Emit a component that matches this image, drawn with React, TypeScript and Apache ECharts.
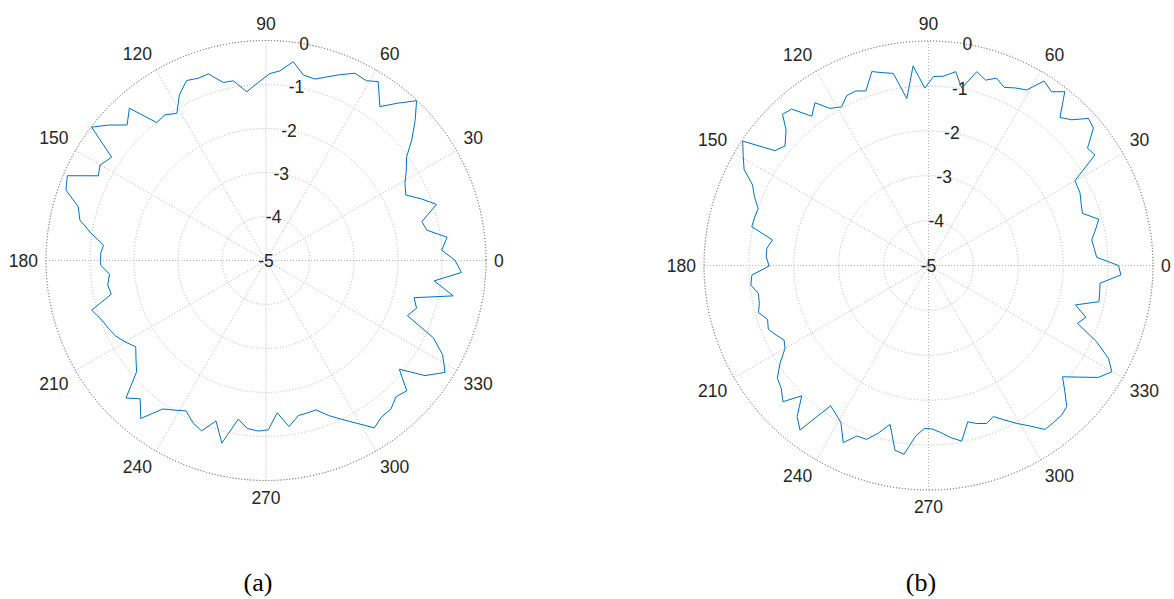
import React, { useEffect, useRef } from "react";
import * as echarts from "echarts";

// ---- data (angle in degrees, gain in dB) ----
const anglesA = [
  0, 3.4, 7.3, 10.7, 14.0, 18.2, 21.6, 25.1, 29.0, 32.5,
  36.4, 39.6, 43.2, 46.7, 50.2, 53.5, 57.9, 60.8, 64.6, 68.2,
  71.6, 74.9, 78.6, 82.2, 85.8, 88.8, 92.5, 96.5, 100.3, 103.5,
  107.2, 110.4, 113.8, 117.6, 121.2, 124.8, 128.4, 131.9, 135.7, 139.3,
  142.6, 146.2, 150.1, 153.2, 156.9, 160.6, 164.0, 167.7, 171.2, 174.6,
  177.5, 181.6, 185.0, 188.8, 192.3, 195.9, 199.9, 203.2, 206.5, 210.0,
  213.5, 217.0, 220.7, 224.5, 227.7, 231.6, 235.2, 238.7, 242.0, 245.9,
  249.3, 252.7, 256.4, 260.1, 263.6, 267.4, 270.8, 274.2, 277.9, 281.8,
  285.2, 288.5, 292.0, 295.5, 299.9, 302.9, 306.5, 310.1, 313.7, 317.2,
  320.8, 324.1, 328.0, 331.9, 335.2, 338.7, 342.4, 345.9, 349.3, 353.1,
  356.5,
];
const gainA = [
  -0.70, -1.00, -0.85, -1.28, -1.35, -0.92, -1.20, -1.49, -1.39, -1.22,
  -1.03, -0.70, -0.35, -0.01, -0.35, -0.65, -0.20, -0.32, -0.29, -0.45,
  -0.60, -0.73, -0.70, -0.44, -0.68, -0.75, -0.95, -1.14, -0.85, -0.84,
  -0.56, -0.58, -0.53, -0.75, -1.09, -0.97, -1.00, -0.35, -0.59, -0.28,
  -0.01, -0.78, -0.65, -0.73, -0.09, -0.18, -0.56, -0.67, -0.98, -1.29,
  -1.24, -1.24, -1.43, -1.36, -1.40, -0.88, -1.03, -1.10, -1.17, -1.30,
  -1.45, -1.30, -1.12, -0.54, -0.75, -0.42, -0.89, -1.02, -1.13, -0.95,
  -0.86, -1.18, -0.73, -1.34, -1.16, -1.12, -1.15, -1.53, -1.19, -1.40,
  -1.41, -1.42, -1.20, -1.00, -0.71, -0.47, -0.58, -0.59, -0.72, -0.64,
  -1.09, -0.54, -0.20, -0.45, -0.81, -1.55, -1.41, -1.53, -0.67, -1.15,
  -0.55,
];

const anglesB = [
  0, 2.8, 5.9, 8.9, 12.0, 15.2, 18.7, 22.2, 25.5, 30.1,
  33.6, 36.4, 39.8, 42.6, 45.5, 48.4, 51.9, 54.7, 57.9, 60.8,
  64.0, 67.0, 70.0, 72.9, 76.0, 79.4, 82.0, 85.5, 88.5, 91.2,
  94.4, 97.4, 100.4, 103.6, 106.3, 109.7, 112.6, 115.7, 118.7, 122.1,
  124.9, 128.0, 131.2, 134.0, 136.4, 140.2, 143.2, 146.2, 149.3, 152.5,
  155.4, 158.4, 161.5, 164.5, 167.6, 170.7, 173.9, 176.9, 180.2, 183.1,
  186.3, 189.3, 192.6, 195.5, 198.5, 201.7, 204.5, 207.3, 210.0, 213.4,
  216.7, 219.8, 223.1, 225.8, 229.0, 232.0, 235.1, 238.0, 240.8, 244.3,
  247.2, 250.4, 253.3, 256.4, 259.7, 262.6, 265.8, 268.6, 271.2, 274.2,
  277.5, 280.7, 284.1, 287.0, 290.2, 293.2, 296.3, 299.2, 301.9, 305.4,
  308.5, 311.7, 314.4, 317.2, 320.3, 323.6, 326.6, 329.9, 332.7, 335.6,
  338.8, 341.8, 345.0, 348.0, 351.0, 354.1, 357.2,
];
const gainB = [
  -0.77, -1.25, -1.29, -1.32, -1.20, -1.07, -1.38, -1.33, -1.26, -1.23,
  -0.55, -0.60, -0.22, -0.16, -0.45, -0.59, -0.08, -0.26, -0.15, -0.52,
  -0.60, -0.69, -0.56, -0.68, -0.55, -0.98, -0.64, -0.77, -0.79, -1.05,
  -0.54, -1.25, -0.65, -0.58, -0.50, -0.87, -0.79, -0.80, -0.97, -0.87,
  -0.58, -0.78, -0.37, -0.32, -0.62, -0.84, -0.73, -0.02, -0.20, -0.37,
  -0.69, -0.83, -1.00, -0.98, -0.97, -1.48, -1.38, -1.38, -1.45, -1.06,
  -1.02, -1.16, -1.14, -1.07, -1.22, -1.16, -1.27, -1.38, -1.31, -1.04,
  -0.80, -0.73, -0.56, -0.95, -0.54, -0.35, -1.19, -1.10, -1.00, -0.62,
  -0.88, -0.89, -1.10, -1.36, -0.82, -0.76, -1.20, -1.37, -1.36, -1.27,
  -1.13, -1.02, -1.41, -1.32, -1.25, -1.34, -1.16, -0.97, -0.80, -0.52,
  -0.53, -0.54, -0.60, -0.86, -1.12, -0.81, -0.47, -0.28, -0.49, -0.89,
  -1.44, -1.31, -1.61, -1.12, -1.14, -1.16, -0.71,
];

const radiusMin = -5;
const radiusMax = 0;
const radiusStep = 1;
const angleStep = 30;
const captions = ["(a)", "(b)"];

function loop(angles: number[], gains: number[]) {
  const d = angles.map((a, i) => [gains[i], a]);
  d.push([gains[0], angles[0] + 360]);
  return d;
}

const labelFont = "'Liberation Sans', Arial, sans-serif";
const captionFont = "'Liberation Serif', 'Times New Roman', serif";
const dotted = [1, 2];
const labelSize = 17.5;

function mainAngleAxis(polarIndex: number) {
  return {
    polarIndex,
    type: "value",
    min: 0,
    max: 360,
    interval: angleStep,
    startAngle: 0,
    clockwise: false,
    axisLine: { show: true, lineStyle: { color: "#6a6a6a", width: 1, type: dotted } },
    axisTick: { show: false },
    axisLabel: {
      show: true,
      margin: 8,
      fontSize: labelSize,
      color: "#262626",
      fontFamily: labelFont,
      formatter: (v: number) => (v >= 360 ? "" : String(v)),
    },
    splitLine: { show: true, lineStyle: { color: "#b4b4b4", width: 1, type: dotted } },
  };
}
function mainRadiusAxis(polarIndex: number) {
  return {
    polarIndex,
    type: "value",
    min: radiusMin,
    max: radiusMax,
    interval: radiusStep,
    axisLine: { show: false },
    axisTick: { show: false },
    axisLabel: { show: false },
    splitLine: { show: true, lineStyle: { color: "#b4b4b4", width: 1, type: dotted } },
  };
}
function labelAngleAxis(polarIndex: number) {
  return {
    polarIndex,
    type: "value",
    min: 0,
    max: 360,
    startAngle: 80,
    clockwise: false,
    show: false,
    axisLine: { show: false },
    axisTick: { show: false },
    axisLabel: { show: false },
    splitLine: { show: false },
  };
}
function labelRadiusAxis(polarIndex: number) {
  return {
    polarIndex,
    type: "value",
    min: radiusMin,
    max: radiusMax,
    interval: radiusStep,
    axisLine: { show: false },
    axisTick: { show: false },
    splitLine: { show: false },
    axisLabel: {
      show: true,
      margin: 0,
      fontSize: labelSize,
      color: "#262626",
      fontFamily: labelFont,
      align: "center",
      verticalAlign: "middle",
    },
  };
}

export default function App() {
  const ref = useRef<HTMLDivElement>(null);
  useEffect(() => {
    if (!ref.current) return;
    const chart = echarts.init(ref.current, undefined, { renderer: "svg" });
    const ca = [266, 260.5];
    const ra = 220;
    const cb = [928.5, 265.5];
    const rb = 224.5;
    chart.setOption({
      animation: false,
      backgroundColor: "#ffffff",
      polar: [
        { center: ca, radius: ra },
        { center: ca, radius: ra },
        { center: cb, radius: rb },
        { center: cb, radius: rb },
      ],
      angleAxis: [mainAngleAxis(0), labelAngleAxis(1), mainAngleAxis(2), labelAngleAxis(3)],
      radiusAxis: [mainRadiusAxis(0), labelRadiusAxis(1), mainRadiusAxis(2), labelRadiusAxis(3)],
      series: [
        {
          type: "line",
          coordinateSystem: "polar",
          polarIndex: 0,
          data: loop(anglesA, gainA),
          symbol: "none",
          lineStyle: { color: "#0072BD", width: 1 },
        },
        {
          type: "line",
          coordinateSystem: "polar",
          polarIndex: 2,
          data: loop(anglesB, gainB),
          symbol: "none",
          lineStyle: { color: "#0072BD", width: 1 },
        },
      ],
      graphic: [
        {
          type: "text",
          x: 258,
          y: 582,
          style: {
            text: captions[0],
            fontSize: 26,
            fontFamily: captionFont,
            fill: "#000000",
            align: "center",
            verticalAlign: "middle",
          },
        },
        {
          type: "text",
          x: 921,
          y: 582,
          style: {
            text: captions[1],
            fontSize: 26,
            fontFamily: captionFont,
            fill: "#000000",
            align: "center",
            verticalAlign: "middle",
          },
        },
      ],
    });
    return () => chart.dispose();
  }, []);
  return (
    <div
      ref={ref}
      style={{ position: "absolute", left: 0, top: 0, width: 1174, height: 599 }}
    />
  );
}
